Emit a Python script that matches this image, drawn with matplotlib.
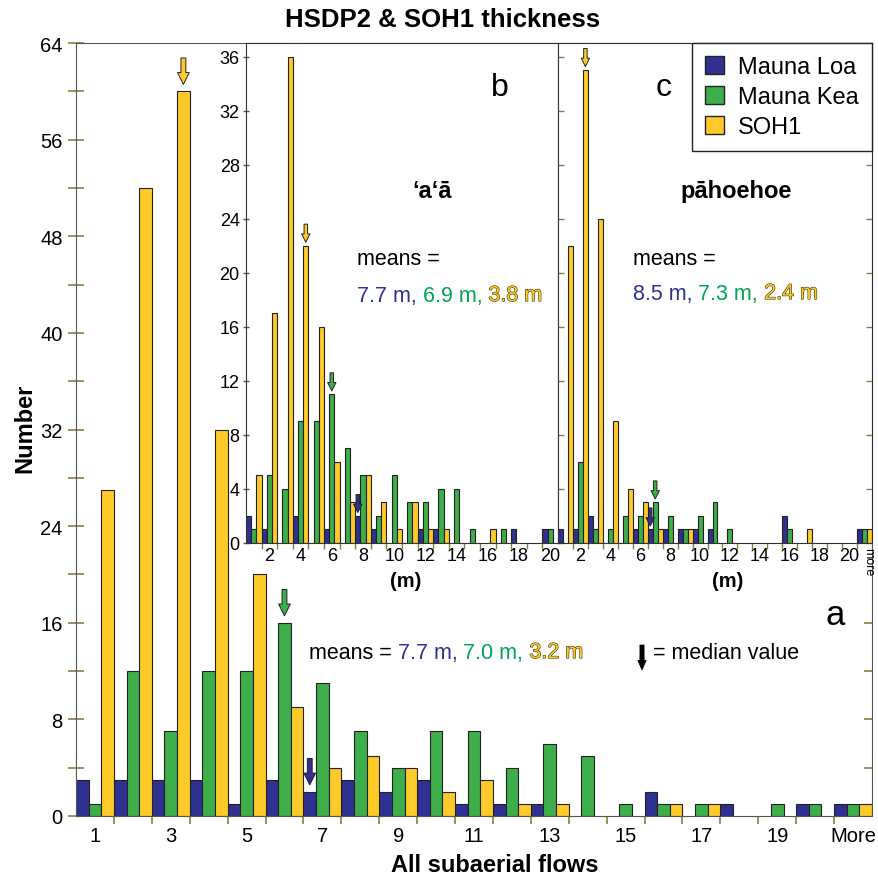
import numpy as np
import matplotlib
matplotlib.use("Agg")
import matplotlib.pyplot as plt
import matplotlib.patheffects as pe
from matplotlib.patches import Patch

plt.rcParams['font.family'] = ['Liberation Sans', 'DejaVu Sans']

W, H = 879, 879

# colours
c_ml = '#2e3192'
c_mk = '#3dae49'
c_soh = '#fdca2a'
txt_blue = '#2e3192'
txt_green = '#00a651'
tick_col = '#8c7b3e'
colors = [c_ml, c_mk, c_soh]
series = ['Mauna Loa', 'Mauna Kea', 'SOH1']

# (a) all subaerial flows, 1 m classes
cats_a = [str(i) for i in range(1, 21)] + ['More']
ml_a = [3, 3, 3, 3, 1, 3, 2, 3, 2, 3, 1, 1, 1, 0, 0, 2, 0, 1, 0, 1, 1]
mk_a = [1, 12, 7, 12, 12, 16, 11, 7, 4, 7, 7, 4, 6, 5, 1, 1, 1, 0, 1, 1, 1]
soh_a = [27, 52, 60, 32, 20, 9, 4, 5, 4, 2, 3, 1, 1, 0, 0, 1, 1, 0, 0, 0, 1]

# (b) 'a'a flows
cats_b = [str(i) for i in range(1, 21)]
ml_b = [2, 1, 0, 2, 0, 1, 0, 2, 1, 0, 0, 1, 1, 0, 0, 0, 0, 1, 0, 1]
mk_b = [1, 5, 4, 9, 9, 11, 7, 5, 2, 5, 3, 3, 4, 4, 1, 0, 1, 0, 0, 1]
soh_b = [5, 17, 36, 22, 16, 6, 3, 5, 3, 1, 3, 1, 1, 0, 0, 1, 0, 0, 0, 0]

# (c) pahoehoe flows
cats_c = [str(i) for i in range(1, 21)] + ['more']
ml_c = [1, 1, 2, 0, 0, 1, 1, 1, 1, 1, 1, 0, 0, 0, 0, 2, 0, 0, 0, 0, 1]
mk_c = [0, 6, 1, 1, 2, 2, 3, 2, 1, 2, 3, 1, 0, 0, 0, 1, 0, 0, 0, 0, 1]
soh_c = [22, 35, 24, 9, 4, 3, 1, 0, 1, 0, 0, 0, 0, 0, 0, 0, 1, 0, 0, 0, 1]

# median class for each series (series index, class index)
med_a = [(2, 2), (1, 5), (0, 6)]
med_b = [(2, 3), (1, 5), (0, 7)]
med_c = [(2, 1), (1, 6), (0, 6)]


def fx(x):
    return x / W


def fy(y):
    return 1 - y / H


def draw_bars(ax, data):
    w = 1 / 3
    for k, vals in enumerate(data):
        vals = np.array(vals)
        x = np.arange(len(vals))
        m = vals > 0
        ax.bar(x[m] + (k - 1) * w, vals[m], width=w, color=colors[k],
               edgecolor='#222222', linewidth=0.8, zorder=2)


def median_arrows(ax, data, meds, length, gap, hw, tw):
    for k, i in meds:
        ax.annotate('', xy=(i + (k - 1) / 3, data[k][i]),
                    xytext=(0, length + gap), textcoords='offset points',
                    arrowprops=dict(arrowstyle='simple,head_length=%g,head_width=%g,tail_width=%g' % (hw, hw, tw),
                                    fc=colors[k], ec='#222222', lw=0.7,
                                    shrinkA=0, shrinkB=gap, mutation_scale=10),
                    zorder=5)


fig = plt.figure(figsize=(8.79, 8.79), dpi=100)

# ---- main panel (a)
ax = fig.add_axes([fx(76), fy(817), (872 - 76) / W, (817 - 44) / H])
draw_bars(ax, [ml_a, mk_a, soh_a])
ax.set_xlim(-0.5, 20.5)
ax.set_ylim(0, 64)
ax.set_xticks(np.arange(0, 21, 2))
ax.set_xticklabels(cats_a[::2])
ax.set_xticks(np.arange(0.5, 20, 1), minor=True)
ax.tick_params(axis='x', which='major', length=0, pad=7, labelsize=14.5)
ax.tick_params(axis='x', which='minor', length=6, direction='out', color=tick_col, width=1.2)
ax.set_yticks(np.arange(0, 65, 8))
ax.set_yticks(np.arange(4, 64, 8), minor=True)
ax.tick_params(axis='y', which='both', direction='inout', length=11, color=tick_col,
               width=1.2, labelsize=14.5, pad=4)
for s in ax.spines.values():
    s.set_color('#555555')
median_arrows(ax, [ml_a, mk_a, soh_a], med_a, 19, 5, 0.85, 0.35)

axr = ax.twinx()
axr.set_ylim(0, 64)
axr.set_yticks([4, 8, 12, 16])
axr.tick_params(axis='y', direction='in', length=6, color=tick_col, width=1.2, labelright=False)
axr.spines[:].set_visible(False)

# ---- inset (b) 'a'a
ax_b = fig.add_axes([fx(246), fy(544), (558 - 246) / W, (544 - 44) / H])
draw_bars(ax_b, [ml_b, mk_b, soh_b])
ax_b.set_xlim(-0.5, 19.5)
ax_b.set_ylim(0, 37)
ax_b.set_xticks(np.arange(1, 20, 2))
ax_b.set_xticklabels(cats_b[1::2])
ax_b.set_xticks(np.arange(0.5, 19, 1), minor=True)
ax_b.tick_params(axis='x', which='major', length=0, pad=3, labelsize=13)
ax_b.tick_params(axis='x', which='minor', length=4, direction='out', color=tick_col, width=1)
ax_b.set_yticks(np.arange(0, 37, 4))
ax_b.tick_params(axis='y', direction='inout', length=5, color='#555555', width=1,
                 labelsize=13, pad=2)
for s in ax_b.spines.values():
    s.set_color('#333333')
median_arrows(ax_b, [ml_b, mk_b, soh_b], med_b, 13, 2.5, 0.6, 0.25)

# ---- inset (c) pahoehoe
ax_c = fig.add_axes([fx(558), fy(544), (872 - 558) / W, (544 - 44) / H])
draw_bars(ax_c, [ml_c, mk_c, soh_c])
ax_c.set_xlim(-0.5, 20.5)
ax_c.set_ylim(0, 37)
ax_c.set_xticks(list(np.arange(1, 20, 2)) + [20.25])
ax_c.set_xticklabels(cats_c[1:20:2] + [cats_c[20]])
ax_c.set_xticks(np.arange(0.5, 20, 1), minor=True)
ax_c.tick_params(axis='x', which='major', length=0, pad=3, labelsize=13)
ax_c.tick_params(axis='x', which='minor', length=4, direction='out', color=tick_col, width=1)
lab = ax_c.get_xticklabels()[-1]
lab.set_rotation(270)
lab.set_fontsize(9)
lab.set_va('top')
ax_c.set_yticks(np.arange(0, 37, 4))
ax_c.tick_params(axis='y', left=True, right=True, direction='in', length=4,
                 color=tick_col, width=1, labelleft=False)
for s in ax_c.spines.values():
    s.set_color('#333333')
median_arrows(ax_c, [ml_c, mk_c, soh_c], med_c, 13, 2.5, 0.6, 0.25)

handles = [Patch(facecolor=colors[k], edgecolor='#222222', label=series[k]) for k in range(3)]
leg = ax_c.legend(handles=handles, loc='upper right', bbox_to_anchor=(1, 1),
                  borderaxespad=0, fontsize=17, fancybox=False, edgecolor='#222222',
                  handlelength=0.8, handleheight=0.8, handletextpad=0.6,
                  labelspacing=0.32, borderpad=0.55, framealpha=1)
leg.get_frame().set_linewidth(1)

# ---- overlay for texts, in picture pixels
ov = fig.add_axes([0, 0, 1, 1], zorder=10)
ov.set_xlim(0, W)
ov.set_ylim(H, 0)
ov.axis('off')

ov.text(443, 20, 'HSDP2 & SOH1 thickness', ha='center', va='center',
        fontsize=18.5, fontweight='bold')
ov.text(25, 428, 'Number', rotation=90, ha='center', va='center',
        fontsize=17, fontweight='bold')
ov.text(495, 866, 'All subaerial flows', ha='center', va='center',
        fontsize=17, fontweight='bold')
ov.text(406, 582, '(m)', ha='center', va='center', fontsize=14.5, fontweight='bold')
ov.text(728, 582, '(m)', ha='center', va='center', fontsize=14.5, fontweight='bold')

ov.text(835, 625, 'a', ha='center', va='baseline', fontsize=25)
ov.text(500, 96, 'b', ha='center', va='baseline', fontsize=23)
ov.text(664, 96, 'c', ha='center', va='baseline', fontsize=23)
ov.text(432, 198, '\u2018a\u2018\u0101', ha='center', va='baseline', fontsize=17, fontweight='bold')
ov.text(736, 198, 'p\u0101hoehoe', ha='center', va='baseline', fontsize=17, fontweight='bold')

outline = [pe.Stroke(linewidth=0.8, foreground='#3d3200'), pe.Normal()]


def colored_line(x, y, pieces, size):
    prev = ov.text(x, y, pieces[0][0], color=pieces[0][1], fontsize=size,
                   ha='left', va='baseline')
    for s, col in pieces[1:]:
        prev = ov.annotate(s, xy=(1, 0), xycoords=prev, ha='left', va='bottom',
                           color=col, fontsize=size, annotation_clip=False,
                           path_effects=outline if col == c_soh else None)
    return prev


ov.text(357, 265, 'means =', fontsize=15.5, ha='left', va='baseline')
colored_line(357, 302, [('7.7 m, ', txt_blue), ('6.9 m, ', txt_green), ('3.8 m', c_soh)], 15.5)
ov.text(633, 265, 'means =', fontsize=15.5, ha='left', va='baseline')
colored_line(633, 300, [('8.5 m, ', txt_blue), ('7.3 m, ', txt_green), ('2.4 m', c_soh)], 15.5)
colored_line(309, 659, [('means = ', 'black'), ('7.7 m, ', txt_blue), ('7.0 m, ', txt_green),
                        ('3.2 m', c_soh)], 15.5)

ov.annotate('', xy=(642, 671), xytext=(642, 646),
            arrowprops=dict(arrowstyle='simple,head_length=0.7,head_width=0.6,tail_width=0.3',
                            fc='black', ec='black', lw=0.5, shrinkA=0, shrinkB=0,
                            mutation_scale=10), annotation_clip=False)
ov.text(653, 659, '= median value', fontsize=15.5, ha='left', va='baseline')

fig.savefig('out.png', dpi=100)
